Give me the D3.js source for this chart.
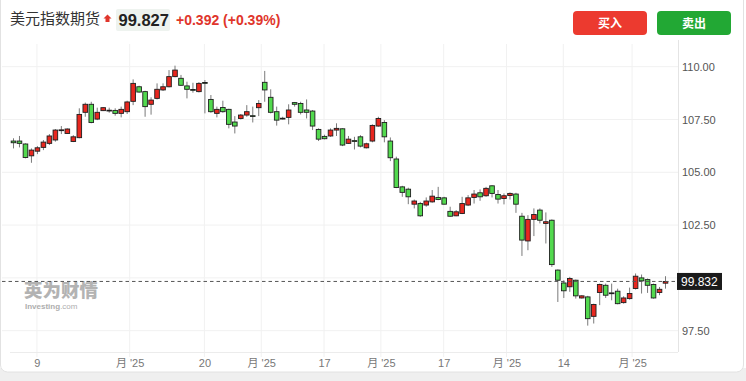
<!DOCTYPE html>
<html><head><meta charset="utf-8">
<script src="https://cdn.jsdelivr.net/npm/d3@7/dist/d3.min.js"></script>
<style>
html,body{margin:0;padding:0;background:#fff;}
svg{display:block;}
</style></head>
<body>
<svg id="c" width="746" height="381"></svg>
<script>
// ---- data ----
const title = "美元指数期货";
const lastPrice = "99.827";
const change = "+0.392 (+0.39%)";
const currentValue = 99.832;
const open = [106.48,106.48,106.34,105.78,106.00,106.18,106.37,106.53,107.00,106.84,
106.46,106.64,107.84,108.22,107.52,107.92,107.93,107.93,107.79,107.87,
108.36,109.05,108.82,108.22,108.50,108.90,109.05,109.53,109.45,109.09,
108.92,108.82,109.25,108.45,107.79,108.07,107.98,107.38,107.55,107.71,
107.68,108.06,109.26,108.55,107.87,107.56,107.60,108.30,108.26,107.95,
107.90,107.03,106.70,106.72,107.00,107.06,106.37,106.50,106.68,106.16,
106.48,107.19,107.36,106.48,105.63,104.31,104.20,103.49,103.52,103.45,
103.60,103.81,103.79,103.15,102.94,103.05,103.45,103.81,104.03,103.89,
104.36,103.95,103.76,103.90,103.97,102.92,101.75,102.77,103.21,102.58,
102.73,100.37,99.76,99.58,99.89,99.05,99.10,98.18,99.31,99.65,
99.29,99.37,98.83,99.02,99.50,100.00,99.92,99.69,99.31,99.75];
const high = [106.61,106.72,106.37,106.13,106.24,106.53,106.81,107.05,107.19,107.08,
106.76,108.03,108.30,108.34,108.06,108.08,108.06,108.03,108.11,108.39,
109.40,109.10,108.86,108.55,109.21,109.21,109.84,110.05,109.61,109.29,
109.24,109.27,109.37,108.66,108.11,108.39,108.01,107.66,107.76,108.18,
108.11,108.42,109.80,108.93,108.11,107.63,108.22,108.33,108.34,108.45,
107.95,107.08,106.78,107.08,107.32,107.08,106.72,106.68,106.76,106.40,
107.27,107.63,107.47,106.65,105.74,104.36,104.27,103.71,103.60,103.81,
104.16,104.31,103.84,103.37,103.21,103.84,103.92,104.16,104.19,104.31,
104.39,104.16,104.00,104.05,104.03,103.08,102.97,103.29,103.29,103.10,
102.77,100.40,99.89,100.05,99.92,99.18,99.15,98.78,99.73,99.73,
99.73,99.49,99.13,99.54,100.21,100.16,99.97,99.73,99.57,100.08];
const low = [106.13,106.18,105.66,105.45,105.86,106.05,106.29,106.45,106.81,106.82,
106.43,106.61,107.63,107.32,107.47,107.90,107.82,107.68,107.60,107.76,
108.18,108.77,107.63,107.73,108.45,108.85,109.02,109.50,109.09,108.50,
108.77,108.78,107.79,107.82,107.60,107.82,107.08,106.84,107.50,107.63,
107.36,107.66,108.34,107.79,107.21,107.50,107.27,108.11,107.74,107.55,
107.00,106.48,106.56,106.68,106.72,106.24,106.34,106.08,106.18,106.13,
106.42,107.16,106.42,105.53,104.25,103.84,103.49,103.29,102.89,103.37,
103.56,103.68,103.48,102.89,102.92,103.02,103.40,103.52,103.65,103.84,
103.81,103.52,103.48,103.71,103.08,101.04,101.31,101.98,102.58,101.63,
100.52,98.86,99.05,99.34,99.02,99.02,97.74,97.84,98.71,99.05,
98.94,98.75,98.78,98.97,99.45,99.26,99.29,99.02,99.18,99.49];
const close = [106.40,106.37,105.70,106.05,106.16,106.43,106.72,107.00,107.01,107.05,
106.68,107.74,108.22,107.36,107.84,108.06,107.94,107.79,107.98,108.33,
109.21,108.80,108.11,108.42,108.93,109.05,109.53,109.84,109.12,108.93,
108.89,109.21,109.24,107.87,107.98,107.87,107.27,107.19,107.71,107.87,
107.67,108.26,108.90,107.84,107.47,107.55,107.95,108.22,107.84,107.84,
107.19,106.57,106.59,107.00,107.08,106.29,106.57,106.49,106.24,106.35,
107.22,107.55,106.68,105.69,104.28,104.05,103.84,103.64,102.94,103.64,
103.87,103.71,103.49,102.92,103.13,103.52,103.79,103.97,103.84,104.24,
104.00,103.73,103.89,104.00,103.49,101.79,102.77,103.00,102.73,102.66,
100.63,99.89,99.39,99.97,99.15,99.15,98.07,98.74,99.69,99.18,
99.27,98.78,99.05,99.26,100.08,99.86,99.65,99.05,99.46,99.83];
const xTickPos = [4, 19.5, 32, 41.5, 52, 61.5, 72, 82.5, 92, 103.5];
const xTickLabels = ["9","月 '25","20","月 '25","17","月 '25","17","月 '25","14","月 '25"];
const yTicks = [97.5, 102.5, 105, 107.5, 110];
const yGrid = [97.5, 100, 102.5, 105, 107.5, 110];

// ---- drawing ----
const svg = d3.select("#c");
const plotRight = 678, plotTop = 44, plotBottom = 352;
const x = d3.scaleLinear().domain([0, open.length - 1]).range([13, 665]);
const y = d3.scaleLinear().domain([97.5, 110]).range([330.7, 66.7]);

// panel background / shadow
svg.append("rect").attr("x",0).attr("y",368).attr("width",746).attr("height",13).attr("fill","#efefef");
svg.append("rect").attr("x",0.5).attr("y",-8).attr("width",743).attr("height",380).attr("rx",7)
  .attr("fill","#fff").attr("stroke","#e2e2e2");

// header
svg.append("text").attr("x",10).attr("y",24).text(title)
  .attr("font-family","'Noto Sans CJK SC', sans-serif").attr("font-size",15).attr("fill","#333");
svg.append("path").attr("d","M107.5,14.5 L111.5,18.5 L109.5,18.5 L109.5,22 L105.5,22 L105.5,18.5 L103.5,18.5 Z").attr("fill","#e0352b");
svg.append("rect").attr("x",116).attr("y",9).attr("width",54).attr("height",22).attr("rx",2).attr("fill","#eef3ef");
svg.append("text").attr("x",118.5).attr("y",26).text(lastPrice)
  .attr("font-family","'Liberation Sans', Arial, sans-serif").attr("font-weight","bold").attr("font-size",16.5).attr("fill","#222");
svg.append("text").attr("x",176).attr("y",25).text(change)
  .attr("font-family","'Liberation Sans', Arial, sans-serif").attr("font-weight","bold").attr("font-size",14).attr("fill","#e0352b");

// buttons
const btns = [{x:573,label:"买入",c:"#ec3a2f"},{x:657,label:"卖出",c:"#22a834"}];
btns.forEach(b=>{
  svg.append("rect").attr("x",b.x).attr("y",11).attr("width",74).attr("height",24).attr("rx",4).attr("fill",b.c);
  svg.append("text").attr("x",b.x+37).attr("y",27.5).attr("text-anchor","middle").text(b.label)
    .attr("font-family","'Noto Sans CJK SC', sans-serif").attr("font-weight","bold").attr("font-size",12).attr("fill","#fff");
});

// grid
const g = svg.append("g");
g.selectAll(".hg").data(yGrid).enter().append("line")
  .attr("x1",2).attr("x2",plotRight).attr("y1",d=>y(d)).attr("y2",d=>y(d))
  .attr("stroke","#f1f1f1").attr("stroke-width",1);
g.selectAll(".vg").data(xTickPos).enter().append("line")
  .attr("x1",d=>x(d)).attr("x2",d=>x(d)).attr("y1",plotTop).attr("y2",plotBottom+5)
  .attr("stroke","#f1f1f1").attr("stroke-width",1);

// plot borders
svg.append("line").attr("x1",plotRight+0.5).attr("x2",plotRight+0.5).attr("y1",40).attr("y2",plotBottom)
  .attr("stroke","#e4e4e4");
svg.append("line").attr("x1",10).attr("x2",plotRight).attr("y1",plotBottom+0.5).attr("y2",plotBottom+0.5)
  .attr("stroke","#ececec");

// watermark
svg.append("text").attr("x",24).attr("y",297).text("英为财情")
  .attr("font-family","'Noto Sans CJK SC', sans-serif").attr("font-weight","900").attr("font-size",18.5)
  .attr("fill","#9a9a9a").attr("opacity",0.75);
const wm = svg.append("text").attr("x",25).attr("y",309)
  .attr("font-family","'Liberation Sans', Arial, sans-serif").attr("font-size",8).attr("fill","#9a9a9a").attr("opacity",0.8);
wm.append("tspan").attr("font-weight","bold").text("Investing");
wm.append("tspan").text(".com");

// x axis
const xAxis = d3.axisBottom(x).tickValues(xTickPos).tickFormat((d,i)=>xTickLabels[i]).tickSize(0).tickPadding(7);
const xa = svg.append("g").attr("transform",`translate(0,${plotBottom})`).call(xAxis);
xa.select(".domain").remove();
xa.selectAll("text").attr("font-family","'Liberation Sans', 'Noto Sans CJK SC', sans-serif").attr("font-size",11).attr("fill","#777");

// y axis
const yAxis = d3.axisRight(y).tickValues(yTicks).tickFormat(d3.format(".2f")).tickSize(0).tickPadding(4);
const ya = svg.append("g").attr("transform",`translate(${plotRight},0)`).call(yAxis);
ya.select(".domain").remove();
ya.selectAll("text").attr("font-family","'Liberation Sans', Arial, sans-serif").attr("font-size",11).attr("fill","#555");

// candles
const idx = d3.range(open.length);
const cg = svg.append("g");
cg.selectAll(".wick").data(idx).enter().append("line")
  .attr("x1",i=>x(i)+0.5).attr("x2",i=>x(i)+0.5).attr("y1",i=>y(high[i])).attr("y2",i=>y(low[i]))
  .attr("stroke","#7a7a7a").attr("stroke-width",1);
cg.selectAll(".body").data(idx).enter().append("rect")
  .attr("x",i=>x(i)-1.8).attr("width",4.6)
  .attr("y",i=>y(Math.max(open[i],close[i])))
  .attr("height",i=>Math.max(0.8, Math.abs(y(open[i])-y(close[i]))))
  .attr("fill",i=>close[i]>=open[i] ? "#e8271f" : "#52d94e")
  .attr("stroke","#1e1e1e").attr("stroke-width",0.9);

// current price line and label
const cy = y(currentValue);
svg.append("line").attr("x1",2).attr("x2",plotRight).attr("y1",cy).attr("y2",cy)
  .attr("stroke","#555").attr("stroke-width",1).attr("stroke-dasharray","3.5,3");
svg.append("rect").attr("x",plotRight-1).attr("y",cy-8.5).attr("width",45).attr("height",17).attr("fill","#1b1b1b");
svg.append("text").attr("x",plotRight+3).attr("y",cy+4.5).text(d3.format(".3f")(currentValue))
  .attr("font-family","'Liberation Sans', Arial, sans-serif").attr("font-size",12).attr("fill","#fff");
</script>
</body></html>
